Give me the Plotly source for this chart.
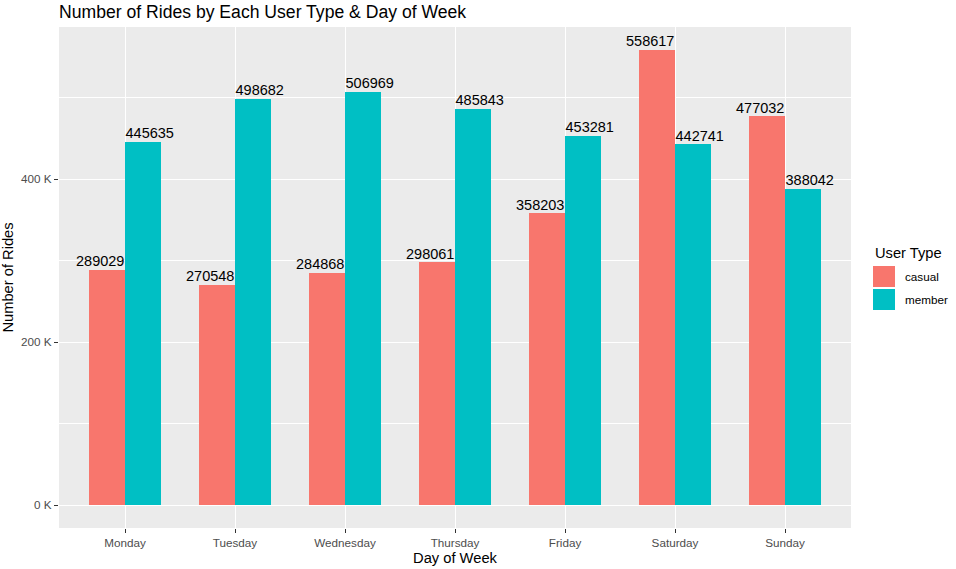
import plotly.graph_objects as go

days = ["Monday", "Tuesday", "Wednesday", "Thursday", "Friday", "Saturday", "Sunday"]
casual = [289029, 270548, 284868, 298061, 358203, 558617, 477032]
member = [445635, 498682, 506969, 485843, 453281, 442741, 388042]
y_tickvals = [0, 200000, 400000]
y_ticktext = ["0 K", "200 K", "400 K"]
user_types = ["casual", "member"]
colors = {"casual": "#F8766D", "member": "#00BFC4"}

FONT = "Liberation Sans, Arial, sans-serif"
xs = list(range(1, len(days) + 1))
bw = 0.325

fig = go.Figure()
fig.add_trace(go.Bar(x=xs, y=casual, width=bw, offset=-bw, marker_color=colors["casual"],
                     marker_line_width=0, name="casual", showlegend=False))
fig.add_trace(go.Bar(x=xs, y=member, width=bw, offset=0, marker_color=colors["member"],
                     marker_line_width=0, name="member", showlegend=False))
fig.add_trace(go.Scatter(x=[x - 0.225 for x in xs], y=casual, mode="text",
                         text=[str(v) for v in casual], textposition="top center",
                         textfont=dict(family=FONT, size=14.5, color="black"),
                         showlegend=False, hoverinfo="skip"))
fig.add_trace(go.Scatter(x=[x + 0.225 for x in xs], y=member, mode="text",
                         text=[str(v) for v in member], textposition="top center",
                         textfont=dict(family=FONT, size=14.5, color="black"),
                         showlegend=False, hoverinfo="skip"))

ymax = max(casual + member)
pad = ymax * 0.05

fig.update_layout(
    width=956, height=569,
    margin=dict(l=59, r=105, t=27, b=41, autoexpand=False),
    paper_bgcolor="white", plot_bgcolor="#EBEBEB",
    font=dict(family=FONT),
    title=dict(text="Number of Rides by Each User Type & Day of Week",
               x=59 / 956, xanchor="left", y=1 - 12 / 569, yanchor="middle",
               font=dict(size=17.6, color="black", family=FONT)),
    bargap=0, showlegend=False,
)
fig.update_xaxes(
    range=[0.4, 7.6], tickvals=xs, ticktext=days, automargin=False,
    showgrid=True, gridcolor="white", gridwidth=1.1, zeroline=False,
    ticks="outside", ticklen=4, tickcolor="#333333", tickwidth=1.1,
    tickfont=dict(size=11.7, color="#4D4D4D", family=FONT),
    title=dict(text="Day of Week", font=dict(size=14.7, color="black", family=FONT), standoff=4),
)
fig.update_yaxes(
    range=[-pad, ymax + pad], tickvals=y_tickvals, ticktext=y_ticktext, automargin=False,
    showgrid=True, gridcolor="white", gridwidth=1.1, zeroline=False,
    ticks="outside", ticklen=4, tickcolor="#333333", tickwidth=1.1,
    tickfont=dict(size=11.7, color="#4D4D4D", family=FONT),
    minor=dict(tickvals=[100000, 300000, 500000], showgrid=True, gridcolor="white", gridwidth=0.55, ticks=""),
    title=dict(text="Number of Rides", font=dict(size=14.7, color="black", family=FONT), standoff=6),
)

# legend drawn manually (ggplot-style large keys)
lx0 = 873
fig.add_annotation(xref="paper", yref="paper", x=(lx0 - 59) / 792, y=(528 - 253) / 501,
                   text="User Type", showarrow=False, xanchor="left", yanchor="middle",
                   font=dict(size=14.7, color="black", family=FONT))
for i, ut in enumerate(user_types):
    top = 266 + i * 23
    fig.add_shape(type="rect", xref="paper", yref="paper",
                  x0=(lx0 - 59) / 792, x1=(lx0 + 22 - 59) / 792,
                  y0=(528 - top) / 501, y1=(528 - top - 21) / 501,
                  fillcolor=colors[ut], line_width=0)
    fig.add_annotation(xref="paper", yref="paper", x=(lx0 + 30 - 59) / 792,
                       y=(528 - top - 10.5) / 501, text=ut, showarrow=False,
                       xanchor="left", yanchor="middle",
                       font=dict(size=11.7, color="black", family=FONT))

fig.write_html("out.html", config={"displayModeBar": False},
               post_script="document.body.style.margin='0';")
